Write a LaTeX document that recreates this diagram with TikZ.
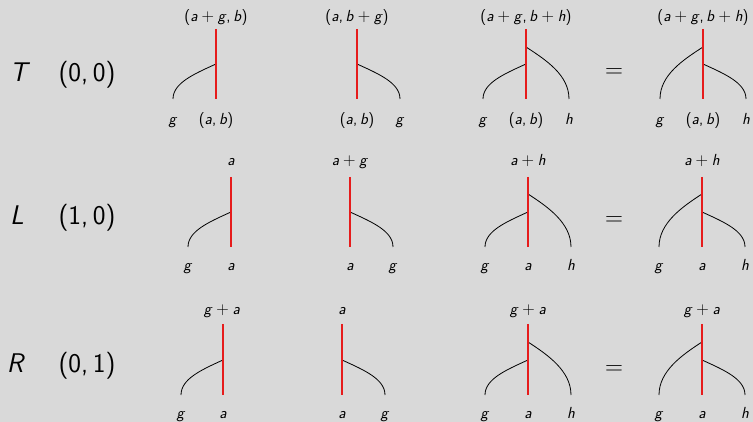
\documentclass[tikz,border=0pt]{standalone}
\usepackage{fontspec}
\setsansfont{Latin Modern Sans}
\definecolor{bg}{RGB}{217,217,217}
\definecolor{wred}{RGB}{230,28,28}
\newcommand\vr[1]{\textit{#1}}
\newcommand\pl{\ensuremath{{}+{}}}
\newcommand\cm{,\hspace{0.17em}}
\tikzset{
  x=1pt, y=-1pt,
  wire/.style={black, line width=0.8pt},
  redwire/.style={wred, line width=2.6pt},
  big/.style={anchor=base, inner sep=0pt, font=\sffamily\fontsize{27}{32}\selectfont},
  lab/.style={anchor=base, inner sep=0pt, font=\sffamily\fontsize{16}{19}\selectfont},
  labs/.style={anchor=base, inner sep=0pt, font=\sffamily\fontsize{16}{19}\selectfont},
  eqs/.style={anchor=base, inner sep=0pt, font=\fontsize{24}{28}\selectfont}
}
\newcommand\lowL[2]{\draw[wire] (#1) .. controls +(0,-16) and +(-22,10) .. (#2);}
\newcommand\lowR[2]{\draw[wire] (#1) .. controls +(0,-16) and +(22,10) .. (#2);}
\newcommand\upL[2]{\draw[wire] (#1) .. controls +(0,-24) and +(-20,13) .. (#2);}
\newcommand\upR[2]{\draw[wire] (#1) .. controls +(0,-24) and +(20,13) .. (#2);}
\begin{document}
\begin{tikzpicture}
\fill[bg] (0,0) rectangle (753,422);
\useasboundingbox (0,0) rectangle (753,422);

%================ Row 1 ================
\node[big] (T) at (20,82) {\vr{T}};
\node[big] (T0) at (87,82) {(0,\hspace{0.17em}0)};
% D1
\coordinate (a1t) at (216,29); \coordinate (a1b) at (216,99);
\coordinate (a1j) at (216,64); \coordinate (a1g) at (173,99);
\lowL{a1g}{a1j}
\draw[redwire] (a1t) -- (a1b);
\node[lab] (a1top) at (216,22) {(\vr{a}\pl\vr{g}\cm\vr{b})};
\node[lab] (a1lg) at (173,125) {\vr{g}};
\node[lab] (a1lab) at (216,125) {(\vr{a}\cm\vr{b})};
% D2
\coordinate (a2t) at (357,29); \coordinate (a2b) at (357,99);
\coordinate (a2j) at (357,64); \coordinate (a2g) at (400,99);
\lowR{a2g}{a2j}
\draw[redwire] (a2t) -- (a2b);
\node[lab] (a2top) at (357,22) {(\vr{a}\cm\vr{b}\pl\vr{g})};
\node[lab] (a2lab) at (357,125) {(\vr{a}\cm\vr{b})};
\node[lab] (a2lg) at (400,125) {\vr{g}};
% D3
\coordinate (a3t) at (526,29); \coordinate (a3b) at (526,99);
\coordinate (a3jl) at (526,64); \coordinate (a3ju) at (526,47);
\coordinate (a3g) at (483,99); \coordinate (a3h) at (569,99);
\lowL{a3g}{a3jl}
\upR{a3h}{a3ju}
\draw[redwire] (a3t) -- (a3b);
\node[lab] (a3top) at (526,22) {(\vr{a}\pl\vr{g}\cm\vr{b}\pl\vr{h})};
\node[lab] (a3lg) at (483,125) {\vr{g}};
\node[lab] (a3lab) at (526,125) {(\vr{a}\cm\vr{b})};
\node[lab] (a3lh) at (569,125) {\vr{h}};
\node[eqs] (eq1) at (614,78) {$=$};
% D4
\coordinate (a4t) at (703,29); \coordinate (a4b) at (703,99);
\coordinate (a4jl) at (703,64); \coordinate (a4ju) at (703,47);
\coordinate (a4g) at (660,99); \coordinate (a4h) at (746,99);
\upL{a4g}{a4ju}
\lowR{a4h}{a4jl}
\draw[redwire] (a4t) -- (a4b);
\node[lab] (a4top) at (703,22) {(\vr{a}\pl\vr{g}\cm\vr{b}\pl\vr{h})};
\node[lab] (a4lg) at (660,125) {\vr{g}};
\node[lab] (a4lab) at (703,125) {(\vr{a}\cm\vr{b})};
\node[lab] (a4lh) at (746,125) {\vr{h}};

%================ Row 2 ================
\node[big] (L) at (17,225) {\vr{L}};
\node[big] (L0) at (87,225) {(1,\hspace{0.17em}0)};
% D1
\coordinate (b1t) at (231,177); \coordinate (b1b) at (231,247);
\coordinate (b1j) at (231,212); \coordinate (b1g) at (188,247);
\lowL{b1g}{b1j}
\draw[redwire] (b1t) -- (b1b);
\node[labs] (b1top) at (231,166) {\vr{a}};
\node[labs] (b1lg) at (188,271) {\vr{g}};
\node[labs] (b1la) at (231,271) {\vr{a}};
% D2
\coordinate (b2t) at (350,177); \coordinate (b2b) at (350,247);
\coordinate (b2j) at (350,212); \coordinate (b2g) at (393,247);
\lowR{b2g}{b2j}
\draw[redwire] (b2t) -- (b2b);
\node[labs] (b2top) at (350,166) {\vr{a}\pl\vr{g}};
\node[labs] (b2la) at (350,271) {\vr{a}};
\node[labs] (b2lg) at (393,271) {\vr{g}};
% D3
\coordinate (b3t) at (528,177); \coordinate (b3b) at (528,247);
\coordinate (b3jl) at (528,212); \coordinate (b3ju) at (528,194);
\coordinate (b3g) at (485,247); \coordinate (b3h) at (571,247);
\lowL{b3g}{b3jl}
\upR{b3h}{b3ju}
\draw[redwire] (b3t) -- (b3b);
\node[labs] (b3top) at (528,166) {\vr{a}\pl\vr{h}};
\node[labs] (b3lg) at (485,271) {\vr{g}};
\node[labs] (b3la) at (528,271) {\vr{a}};
\node[labs] (b3lh) at (571,271) {\vr{h}};
\node[eqs] (eq2) at (614,226) {$=$};
% D4
\coordinate (b4t) at (702,177); \coordinate (b4b) at (702,247);
\coordinate (b4jl) at (702,212); \coordinate (b4ju) at (702,194);
\coordinate (b4g) at (659,247); \coordinate (b4h) at (745,247);
\upL{b4g}{b4ju}
\lowR{b4h}{b4jl}
\draw[redwire] (b4t) -- (b4b);
\node[labs] (b4top) at (702,166) {\vr{a}\pl\vr{h}};
\node[labs] (b4lg) at (659,271) {\vr{g}};
\node[labs] (b4la) at (702,271) {\vr{a}};
\node[labs] (b4lh) at (745,271) {\vr{h}};

%================ Row 3 ================
\node[big] (R) at (16,373) {\vr{R}};
\node[big] (R0) at (87,373) {(0,\hspace{0.17em}1)};
% D1
\coordinate (c1t) at (223,324); \coordinate (c1b) at (223,395);
\coordinate (c1j) at (223,360); \coordinate (c1g) at (181,395);
\lowL{c1g}{c1j}
\draw[redwire] (c1t) -- (c1b);
\node[labs] (c1top) at (222,315) {\vr{g}\pl\vr{a}};
\node[labs] (c1lg) at (181,418) {\vr{g}};
\node[labs] (c1la) at (223,418) {\vr{a}};
% D2
\coordinate (c2t) at (342,324); \coordinate (c2b) at (342,395);
\coordinate (c2j) at (342,360); \coordinate (c2g) at (385,395);
\lowR{c2g}{c2j}
\draw[redwire] (c2t) -- (c2b);
\node[labs] (c2top) at (342,315) {\vr{a}};
\node[labs] (c2la) at (342,418) {\vr{a}};
\node[labs] (c2lg) at (385,418) {\vr{g}};
% D3
\coordinate (c3t) at (528,324); \coordinate (c3b) at (528,395);
\coordinate (c3jl) at (528,360); \coordinate (c3ju) at (528,342);
\coordinate (c3g) at (485,395); \coordinate (c3h) at (571,395);
\lowL{c3g}{c3jl}
\upR{c3h}{c3ju}
\draw[redwire] (c3t) -- (c3b);
\node[labs] (c3top) at (528,315) {\vr{g}\pl\vr{a}};
\node[labs] (c3lg) at (485,418) {\vr{g}};
\node[labs] (c3la) at (528,418) {\vr{a}};
\node[labs] (c3lh) at (571,418) {\vr{h}};
\node[eqs] (eq3) at (614,374) {$=$};
% D4
\coordinate (c4t) at (702,324); \coordinate (c4b) at (702,395);
\coordinate (c4jl) at (702,360); \coordinate (c4ju) at (702,342);
\coordinate (c4g) at (659,395); \coordinate (c4h) at (745,395);
\upL{c4g}{c4ju}
\lowR{c4h}{c4jl}
\draw[redwire] (c4t) -- (c4b);
\node[labs] (c4top) at (702,315) {\vr{g}\pl\vr{a}};
\node[labs] (c4lg) at (659,418) {\vr{g}};
\node[labs] (c4la) at (702,418) {\vr{a}};
\node[labs] (c4lh) at (745,418) {\vr{h}};
\end{tikzpicture}
\end{document}
